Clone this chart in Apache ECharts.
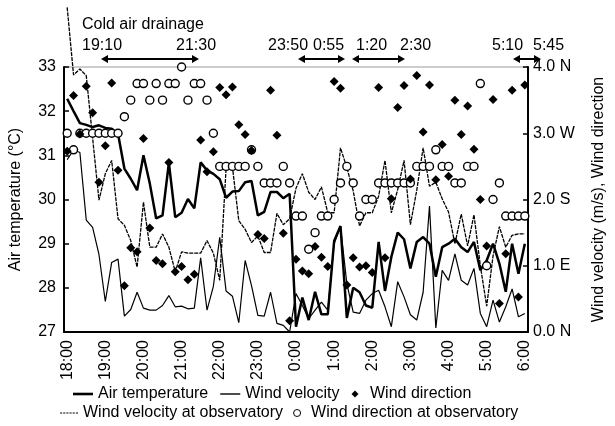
<!DOCTYPE html>
<html>
<head>
<meta charset="utf-8">
<script src="https://cdn.jsdelivr.net/npm/echarts@6/dist/echarts.min.js"></script>
<style>
  html, body { margin: 0; padding: 0; background: #fff; }
  #chart { width: 615px; height: 426px; }
</style>
</head>
<body>
<div id="chart"></div>
<script>
// Time of day, every 10 minutes from 18:00 to 6:00
const times = [];
for (let m = 0; m <= 720; m += 10) {
  const h = (18 + Math.floor(m / 60)) % 24;
  times.push(h + ':' + String(m % 60).padStart(2, '0'));
}

// Air temperature (°C)
const airTemp = [
  32.28, 32.0, 31.73, 31.69, 31.64, 31.68, 31.62, 31.6, 31.49, 30.70,
  30.47, 30.21, 31.0, 30.36, 29.57, 29.64, 30.83, 29.60, 29.70, 30.01,
  29.80, 30.84, 30.66, 30.58, 30.46, 30.04, 30.18, 30.19, 30.39, 30.42,
  29.64, 29.72, 30.17, 30.17, 30.03, 30.13, 27.12, 27.78, 27.27, 27.91,
  27.4, 27.4, 29.06, 29.4, 27.32, 28.0, 27.9, 27.6, 27.55, 29.04,
  27.93, 28.7, 29.25, 29.1, 28.44, 29.04, 29.15, 29.0, 28.25, 28.92,
  29.0, 29.11, 28.92, 28.81, 29.04, 28.40, 28.62, 29.0, 28.55, 27.91,
  29.0, 28.32, 29.0
];

// Wind velocity (m/s)
const windVel = [
  2.6, 2.75, 2.71, 1.69, 1.58, 1.17, 0.46, 1.05, 1.1, 0.24,
  0.34, 0.60, 0.36, 0.33, 0.33, 0.4, 0.55, 0.38, 0.39, 0.35,
  0.36, 1.12, 0.33, 0.69, 1.43, 0.62, 0.54, 0.14, 1.08, 0.7,
  0.25, 0.24, 0.6, 0.13, 0.1, 0.0, 0.58, 0.40, 0.20, 0.33,
  0.45, 0.33, 1.33, 1.59, 0.73, 0.30, 0.28, 0.48, 0.58, 0.63,
  0.38, 0.08, 0.76, 0.53, 0.26, 0.18, 0.6, 1.9, 0.06, 0.93,
  0.78, 1.18, 0.78, 0.71, 0.96, 0.28, 0.08, 0.48, 0.15, 0.38,
  0.65, 0.23, 0.28
];

// Wind direction (0 = N, 1 = E, 2 = S, 3 = W, 4 = N)
const windDir = [
  2.73, 3.57, 2.99, 3.71, 3.31, 2.26, 2.81, 3.76, 2.44, 0.70,
  1.27, 1.21, 2.92, 1.57, 1.08, 1.03, 2.56, 0.91, 0.99, 0.79,
  0.87, 2.90, 2.42, 2.72, 3.69, 3.58, 3.70, 3.13, 2.98, 2.74,
  1.47, 1.41, 3.65, 2.97, 1.49, 0.17, 1.10, 0.92, 0.88, 1.29,
  1.13, 0.99, 3.78, 3.68, 0.71, 1.12, 0.98, 1.00, 0.90, 3.69,
  1.12, 2.01, 3.39, 3.72, 2.31, 3.87, 3.02, 3.73, 2.30, 2.83,
  2.35, 3.50, 2.98, 3.41, 2.76, 2.00, 1.30, 3.51, 0.43, 1.18,
  3.65, 0.53, 3.73
];

// Wind velocity at observatory (m/s)
const obsVel = [
  4.9, 3.88, 3.97, 3.87, 2.93, 1.99, 2.39, 2.59, 1.71, 1.61,
  1.38, 0.98, 1.96, 1.28, 1.28, 1.48, 1.28, 0.91, 1.21, 1.19,
  1.19, 1.19, 1.38, 1.19, 0.78, 2.47, 2.49, 1.68, 1.55, 1.35,
  1.45, 1.2, 1.2, 1.79, 1.62, 1.71, 2.17, 2.39, 2.11, 2.0,
  2.19, 1.8, 1.8, 2.78, 2.48, 2.13, 1.6, 1.8, 1.8, 2.05,
  2.59, 1.8, 2.15, 2.59, 1.62, 2.14, 2.78, 2.2, 2.26, 2.01,
  1.81, 1.33, 1.78, 1.3, 1.77, 1.0, 0.39, 1.15, 1.59, 1.28,
  1.46, 1.48, 1.48
];

// Wind direction at observatory (16-point compass)
const obsDir = [
  3.0, 2.75, 3.0, 3.0, 3.0, 3.0, 3.0, 3.0, 3.0, 3.25,
  3.5, 3.75, 3.75, 3.5, 3.75, 3.5, 3.75, 3.75, 4.0, 3.5,
  3.75, 3.75, 3.5, 3.0, 2.5, 2.5, 2.5, 2.5, 2.5, 2.75,
  2.5, 2.25, 2.25, 2.25, 2.5, 2.25, 1.75, 1.75, 1.25, 1.5,
  1.75, 1.75, 2.0, 2.25, 2.5, 2.25, 1.75, 2.0, 2.0, 2.25,
  2.25, 2.25, 2.25, 2.25, 2.25, 2.5, 2.5, 2.5, 2.75, 2.5,
  2.5, 2.25, 2.25, 2.5, 2.5, 3.75, 1.0, 2.0, 2.25, 1.75,
  1.75, 1.75, 1.75
];

// Compass letters for the right-hand axis ticks
const dirNames = ['N', 'E', 'S', 'W', 'N'];

// Cold air drainage periods (start, end)
const drainageLabels = ['19:10', '21:30', '23:50', '0:55', '1:20', '2:30', '5:10', '5:45'];

// Annotation layout (pixels)
const labelX = [82, 176, 268, 313, 356, 400, 492, 533];
const arrowSpans = [[101, 199], [298, 345], [352, 405], [513, 541]];
const arrowY = 59;

const FONT = '"Liberation Sans", Arial, sans-serif';

function arrow(x1, x2, y) {
  const h = 7, w = 4;
  return {
    type: 'group',
    children: [
      { type: 'line', shape: { x1: x1 + 3, y1: y, x2: x2 - 3, y2: y }, style: { stroke: '#000', lineWidth: 2 } },
      { type: 'polygon', shape: { points: [[x1, y], [x1 + h, y - w], [x1 + h, y + w]] }, style: { fill: '#000' } },
      { type: 'polygon', shape: { points: [[x2, y], [x2 - h, y - w], [x2 - h, y + w]] }, style: { fill: '#000' } }
    ]
  };
}

const graphics = [
  { type: 'text', left: 82, top: 17, style: { text: 'Cold air drainage', font: '16px ' + FONT, fill: '#000' } }
];
drainageLabels.forEach((t, k) => {
  graphics.push({ type: 'text', left: labelX[k], top: 38, style: { text: t, font: '16px ' + FONT, fill: '#000' } });
});
arrowSpans.forEach(s => graphics.push(arrow(s[0], s[1], arrowY)));

// Legend icons: solid bars, a dotted bar, a small diamond
const thickIcon = 'path://M0,0H20V2.6H0Z';
const thinIcon = 'path://M0,0H20V1.4H0Z';
let dots = '';
for (let k = 0; k < 6; k++) dots += 'M' + (k * 3) + ',0h2v1h-2z';
const dottedIcon = 'path://' + dots;
const diamondIcon = 'path://M5,0L10,5L5,10L0,5Z';

const chart = echarts.init(document.getElementById('chart'), null, { renderer: 'canvas' });

const axisText = { color: '#000', fontSize: 16, fontFamily: FONT };

chart.setOption({
  animation: false,
  textStyle: { fontFamily: FONT },
  grid: { left: 56, right: 71, top: 67, bottom: 94, show: true, borderColor: '#9a9a9a', borderWidth: 1 },
  xAxis: {
    type: 'category',
    data: times,
    boundaryGap: true,
    axisLine: { lineStyle: { color: '#000', width: 2 } },
    axisTick: { inside: true, length: 5, interval: 5, lineStyle: { color: '#000', width: 1.5 } },
    axisLabel: Object.assign({ interval: 5, rotate: 90, margin: 8 }, axisText),
    splitLine: { show: false }
  },
  yAxis: [
    {
      type: 'value', min: 27, max: 33, interval: 1, position: 'left',
      name: 'Air temperature (°C)', nameLocation: 'middle', nameGap: 40, nameRotate: 90,
      nameTextStyle: axisText,
      axisLine: { show: true, lineStyle: { color: '#000', width: 2 } },
      axisTick: { show: true, inside: true, length: 5, lineStyle: { color: '#000', width: 1.5 } },
      axisLabel: Object.assign({ margin: 8 }, axisText),
      splitLine: { show: false }
    },
    {
      type: 'value', min: 0, max: 4, interval: 1, position: 'right',
      name: 'Wind velocity (m/s), Wind direction', nameLocation: 'middle', nameGap: 63, nameRotate: 90,
      nameTextStyle: axisText,
      axisLine: { show: true, lineStyle: { color: '#000', width: 2 } },
      axisTick: { show: true, inside: true, length: 5, lineStyle: { color: '#000', width: 1.5 } },
      axisLabel: Object.assign({ margin: 5, formatter: v => v.toFixed(1) + ' ' + dirNames[v] }, axisText),
      splitLine: { show: false }
    }
  ],
  legend: [
    {
      left: 73, top: 386, padding: 0, itemGap: 12, itemWidth: 20, itemHeight: 7,
      symbolKeepAspect: true,
      textStyle: axisText,
      data: [
        { name: 'Air temperature', icon: thickIcon },
        { name: 'Wind velocity', icon: thinIcon },
        { name: 'Wind direction', icon: diamondIcon, itemStyle: { color: '#000', opacity: 1 } }
      ]
    },
    {
      left: 60, top: 405, padding: 0, itemGap: 10, itemWidth: 18, itemHeight: 7,
      symbolKeepAspect: true,
      textStyle: axisText,
      data: [
        { name: 'Wind velocity at observatory', icon: dottedIcon },
        { name: 'Wind direction at observatory', icon: 'circle',
          itemStyle: { color: '#fff', borderColor: '#000', borderWidth: 1, opacity: 1 } }
      ]
    }
  ],
  graphic: graphics,
  series: [
    {
      name: 'Air temperature', type: 'line', yAxisIndex: 0, data: airTemp,
      symbol: 'none', lineStyle: { color: '#000', width: 2.5 }, itemStyle: { color: '#000' }, z: 3
    },
    {
      name: 'Wind velocity', type: 'line', yAxisIndex: 1, data: windVel,
      symbol: 'none', lineStyle: { color: '#000', width: 1.2 }, itemStyle: { color: '#000' }, z: 2
    },
    {
      name: 'Wind direction', type: 'scatter', yAxisIndex: 1, data: windDir,
      symbol: 'diamond', symbolSize: 9, itemStyle: { color: '#000', opacity: 1 }, z: 5
    },
    {
      name: 'Wind velocity at observatory', type: 'line', yAxisIndex: 1, data: obsVel,
      symbol: 'none', clip: false, lineStyle: { color: '#000', width: 1.3, type: [4, 1] },
      itemStyle: { color: '#000' }, z: 2
    },
    {
      name: 'Wind direction at observatory', type: 'scatter', yAxisIndex: 1, data: obsDir,
      symbol: 'circle', symbolSize: 8,
      itemStyle: { color: '#fff', borderColor: '#000', borderWidth: 1.4, opacity: 1 }, z: 4
    }
  ]
});
</script>
</body>
</html>
